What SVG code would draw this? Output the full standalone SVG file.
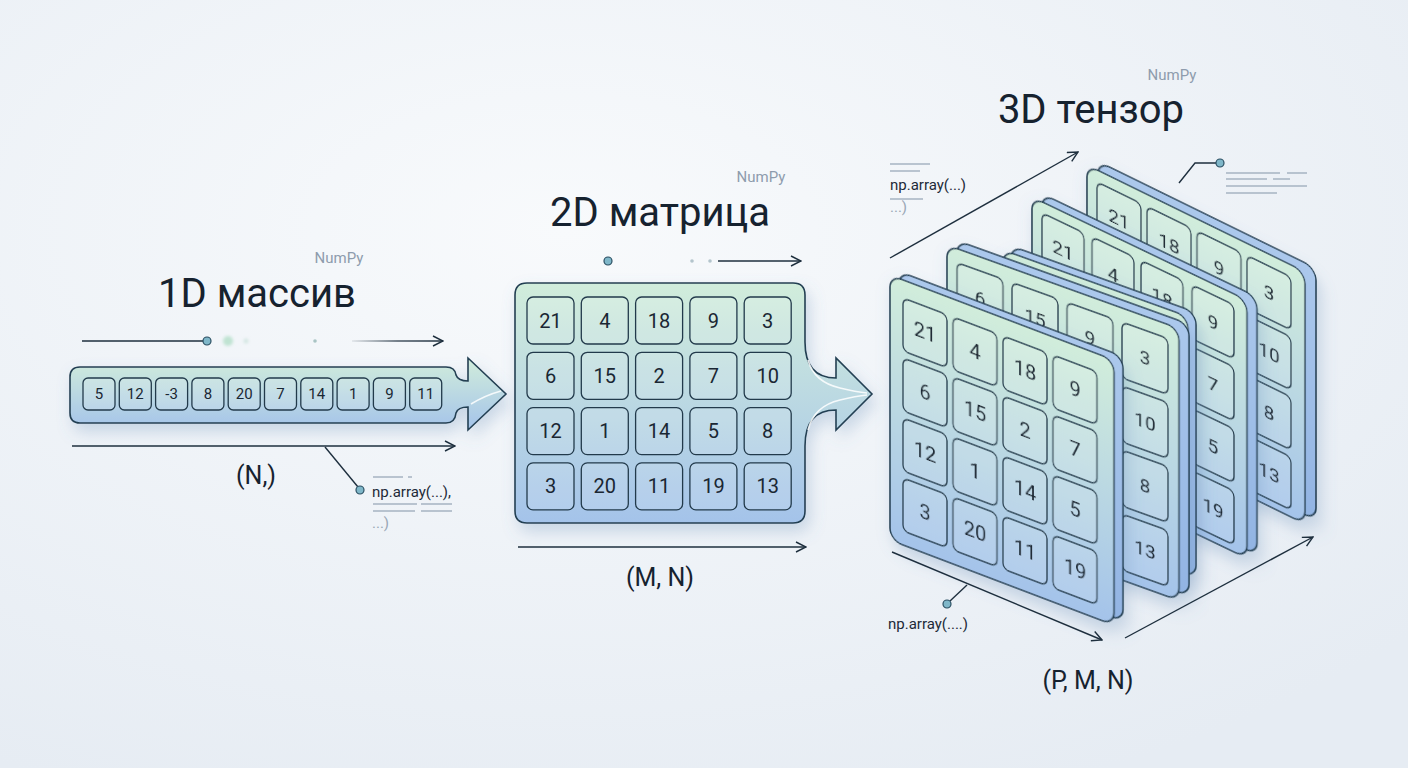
<svg xmlns="http://www.w3.org/2000/svg" width="1408" height="768" viewBox="0 0 1408 768">
<defs>
<style>
text{font-family:Roboto,"Noto Sans","Liberation Sans",sans-serif}
.title{font-size:40px;fill:#16222f;text-anchor:middle}
.numpy{font-size:15px;fill:#8e9cad;text-anchor:middle}
.shape{font-size:25px;fill:#16222f;text-anchor:middle}
.note{font-size:15px;fill:#1d2a38}
.gray{font-size:15px;fill:#9aa7b6}
.box{fill:url(#gBox);stroke:#243f52;stroke-width:1.6}
.cell{fill:#ffffff;fill-opacity:.14;stroke:#223a4b;stroke-width:1.3}
.n{fill:#1a2733;text-anchor:middle;dominant-baseline:central}
.n1{font-size:15px}
.n2{font-size:20px}
.n3{font-size:19px}
.conn{fill:none;stroke:#1e2f3e;stroke-width:1.4}
.faint{fill:none;stroke:#a6b3c2;stroke-width:1.5}
.dot{fill:#7fb7c9;stroke:#2b4f62;stroke-width:1.2}
.side{fill:url(#gSide);stroke:#243f52;stroke-width:1.5}
.face{fill:url(#gBox);stroke:#243f52;stroke-width:1.5}
.hl{fill:none;stroke:#ffffff;stroke-opacity:.85;stroke-width:1.6}
</style>
<radialGradient id="bg" cx="0.4" cy="0.3" r="0.8">
<stop offset="0" stop-color="#f8fafc"/><stop offset="1" stop-color="#e6ecf3"/>
</radialGradient>
<linearGradient id="gBox" x1="0" y1="0" x2="0" y2="1">
<stop offset="0" stop-color="#d1eddb"/><stop offset="1" stop-color="#a4c3ea"/>
</linearGradient>
<linearGradient id="gSide" x1="0" y1="0" x2="0" y2="1">
<stop offset="0" stop-color="#abc8ec"/><stop offset="1" stop-color="#92b4e3"/>
</linearGradient>
<linearGradient id="fade" gradientUnits="userSpaceOnUse" x1="352" y1="0" x2="443" y2="0">
<stop offset="0" stop-color="#1e2f3e" stop-opacity="0.1"/><stop offset="0.5" stop-color="#1e2f3e" stop-opacity="0.8"/><stop offset="1" stop-color="#1e2f3e"/>
</linearGradient>
<filter id="sh" x="-20%" y="-20%" width="150%" height="150%">
<feDropShadow dx="4" dy="8" stdDeviation="8" flood-color="#5f86b3" flood-opacity="0.28"/>
</filter>
<filter id="blur" x="-100%" y="-100%" width="300%" height="300%"><feGaussianBlur stdDeviation="1.5"/></filter>
<marker id="ah" viewBox="0 0 12 12" refX="11" refY="6" markerWidth="12" markerHeight="12" markerUnits="userSpaceOnUse" orient="auto">
<path d="M1,1 L11,6 L1,11" fill="none" stroke="#1e2f3e" stroke-width="1.4"/>
</marker>
</defs>
<rect width="1408" height="768" fill="url(#bg)"/>

<!-- titles -->
<g id="titles">
<text class="numpy" x="339" y="263">NumPy</text>
<text class="title" x="257" y="307">1D массив</text>
<text class="numpy" x="761" y="182">NumPy</text>
<text class="title" x="660" y="226">2D матрица</text>
<text class="numpy" x="1172" y="80">NumPy</text>
<text class="title" x="1091" y="123">3D тензор</text>
<text class="shape" x="256" y="484">(N,)</text>
<text class="shape" x="660" y="586">(M, N)</text>
<text class="shape" x="1088" y="689">(P, M, N)</text>
</g>

<!-- 1D array -->
<g id="node-1d">
<path class="box" filter="url(#sh)" d="M80,367 H446 Q455,367 456,375 Q458,381 468,381 V358 L506,394 L468,430 V407 Q458,407 456,413 Q455,423 446,423 H80 Q70,423 70,413 V377 Q70,367 80,367 Z"/>
<path class="hl" d="M471,404 Q486,395 501,391"/>
<rect class="cell" x="83" y="378" width="32" height="32" rx="5"/><text class="n n1" x="99" y="394">5</text>
<rect class="cell" x="119.3" y="378" width="32" height="32" rx="5"/><text class="n n1" x="135.3" y="394">12</text>
<rect class="cell" x="155.6" y="378" width="32" height="32" rx="5"/><text class="n n1" x="171.6" y="394">-3</text>
<rect class="cell" x="191.9" y="378" width="32" height="32" rx="5"/><text class="n n1" x="207.9" y="394">8</text>
<rect class="cell" x="228.2" y="378" width="32" height="32" rx="5"/><text class="n n1" x="244.2" y="394">20</text>
<rect class="cell" x="264.5" y="378" width="32" height="32" rx="5"/><text class="n n1" x="280.5" y="394">7</text>
<rect class="cell" x="300.8" y="378" width="32" height="32" rx="5"/><text class="n n1" x="316.8" y="394">14</text>
<rect class="cell" x="337.1" y="378" width="32" height="32" rx="5"/><text class="n n1" x="353.1" y="394">1</text>
<rect class="cell" x="373.4" y="378" width="32" height="32" rx="5"/><text class="n n1" x="389.4" y="394">9</text>
<rect class="cell" x="409.7" y="378" width="32" height="32" rx="5"/><text class="n n1" x="425.7" y="394">11</text>
</g>

<!-- 2D matrix -->
<g id="node-2d">
<path class="box" filter="url(#sh)" d="M527,283 H793 Q805,283 805,295 V342 Q805,378 836,378 V358 L872,394 L836,430 V410 Q805,410 805,446 V511 Q805,523 793,523 H527 Q515,523 515,511 V295 Q515,283 527,283 Z"/>
<path class="hl" d="M808,360 Q814,382 840,388 Q856,392 867,393"/>
<path class="hl" d="M808,430 Q814,406 840,400 Q856,396 867,395"/>
<g id="m-cells">
<rect class="cell" x="527" y="297" width="47" height="47" rx="6"/><text class="n n2" x="550.5" y="320.5">21</text>
<rect class="cell" x="581.3" y="297" width="47" height="47" rx="6"/><text class="n n2" x="604.8" y="320.5">4</text>
<rect class="cell" x="635.6" y="297" width="47" height="47" rx="6"/><text class="n n2" x="659.1" y="320.5">18</text>
<rect class="cell" x="689.9" y="297" width="47" height="47" rx="6"/><text class="n n2" x="713.4" y="320.5">9</text>
<rect class="cell" x="744.2" y="297" width="47" height="47" rx="6"/><text class="n n2" x="767.7" y="320.5">3</text>
<rect class="cell" x="527" y="352.3" width="47" height="47" rx="6"/><text class="n n2" x="550.5" y="375.8">6</text>
<rect class="cell" x="581.3" y="352.3" width="47" height="47" rx="6"/><text class="n n2" x="604.8" y="375.8">15</text>
<rect class="cell" x="635.6" y="352.3" width="47" height="47" rx="6"/><text class="n n2" x="659.1" y="375.8">2</text>
<rect class="cell" x="689.9" y="352.3" width="47" height="47" rx="6"/><text class="n n2" x="713.4" y="375.8">7</text>
<rect class="cell" x="744.2" y="352.3" width="47" height="47" rx="6"/><text class="n n2" x="767.7" y="375.8">10</text>
<rect class="cell" x="527" y="407.6" width="47" height="47" rx="6"/><text class="n n2" x="550.5" y="431.1">12</text>
<rect class="cell" x="581.3" y="407.6" width="47" height="47" rx="6"/><text class="n n2" x="604.8" y="431.1">1</text>
<rect class="cell" x="635.6" y="407.6" width="47" height="47" rx="6"/><text class="n n2" x="659.1" y="431.1">14</text>
<rect class="cell" x="689.9" y="407.6" width="47" height="47" rx="6"/><text class="n n2" x="713.4" y="431.1">5</text>
<rect class="cell" x="744.2" y="407.6" width="47" height="47" rx="6"/><text class="n n2" x="767.7" y="431.1">8</text>
<rect class="cell" x="527" y="462.9" width="47" height="47" rx="6"/><text class="n n2" x="550.5" y="486.4">3</text>
<rect class="cell" x="581.3" y="462.9" width="47" height="47" rx="6"/><text class="n n2" x="604.8" y="486.4">20</text>
<rect class="cell" x="635.6" y="462.9" width="47" height="47" rx="6"/><text class="n n2" x="659.1" y="486.4">11</text>
<rect class="cell" x="689.9" y="462.9" width="47" height="47" rx="6"/><text class="n n2" x="713.4" y="486.4">19</text>
<rect class="cell" x="744.2" y="462.9" width="47" height="47" rx="6"/><text class="n n2" x="767.7" y="486.4">13</text>
</g>
</g>

<!-- 3D tensor layers, back to front -->
<g id="node-3d">
<g id="layer-5" transform="matrix(1,0.49,0,1,1087,165)" filter="url(#sh)">
<rect class="side" x="11" y="-9" width="218" height="252" rx="12"/>
<rect class="face" x="0" y="0" width="218" height="252" rx="12"/>
<rect class="cell" x="10" y="12" width="44" height="53" rx="6"/><text class="n n3" x="32" y="38.5">21</text>
<rect class="cell" x="60" y="12" width="44" height="53" rx="6"/><text class="n n3" x="82" y="38.5">18</text>
<rect class="cell" x="110" y="12" width="44" height="53" rx="6"/><text class="n n3" x="132" y="38.5">9</text>
<rect class="cell" x="160" y="12" width="44" height="53" rx="6"/><text class="n n3" x="182" y="38.5">3</text>
<rect class="cell" x="160" y="72" width="44" height="53" rx="6"/><text class="n n3" x="182" y="98.5">10</text>
<rect class="cell" x="160" y="132" width="44" height="53" rx="6"/><text class="n n3" x="182" y="158.5">8</text>
<rect class="cell" x="160" y="192" width="44" height="53" rx="6"/><text class="n n3" x="182" y="218.5">13</text>
</g>
<g id="layer-4" transform="matrix(1,0.48,0,1,1032,197)" filter="url(#sh)">
<rect class="side" x="10" y="-8" width="215" height="258" rx="12"/>
<rect class="face" x="0" y="0" width="215" height="258" rx="12"/>
<rect class="cell" x="10" y="11" width="42" height="54" rx="6"/><text class="n n3" x="31" y="38">21</text>
<rect class="cell" x="60" y="11" width="42" height="54" rx="6"/><text class="n n3" x="81" y="38">4</text>
<rect class="cell" x="109" y="11" width="42" height="54" rx="6"/><text class="n n3" x="130" y="38">18</text>
<rect class="cell" x="160" y="11" width="42" height="54" rx="6"/><text class="n n3" x="181" y="38">9</text>
<rect class="cell" x="160" y="73" width="42" height="54" rx="6"/><text class="n n3" x="181" y="100">7</text>
<rect class="cell" x="160" y="135" width="42" height="54" rx="6"/><text class="n n3" x="181" y="162">5</text>
<rect class="cell" x="160" y="197" width="42" height="54" rx="6"/><text class="n n3" x="181" y="224">19</text>
</g>
<g id="layer-3" transform="matrix(1,0.36,0,1,1003,250)" filter="url(#sh)">
<rect class="side" x="8" y="-7" width="185" height="265" rx="12"/>
<rect class="face" x="0" y="0" width="185" height="265" rx="12"/>
</g>
<g id="layer-2" transform="matrix(1,0.36,0,1,947,245)" filter="url(#sh)">
<rect class="side" x="10" y="-8" width="232" height="272" rx="12"/>
<rect class="face" x="0" y="0" width="232" height="272" rx="12"/>
<rect class="cell" x="10" y="14" width="46" height="56" rx="6"/><text class="n n3" x="33" y="42">6</text>
<rect class="cell" x="65" y="14" width="46" height="56" rx="6"/><text class="n n3" x="88" y="42">15</text>
<rect class="cell" x="120" y="14" width="46" height="56" rx="6"/><text class="n n3" x="143" y="42">9</text>
<rect class="cell" x="175" y="14" width="46" height="56" rx="6"/><text class="n n3" x="198" y="42">3</text>
<rect class="cell" x="175" y="78" width="46" height="56" rx="6"/><text class="n n3" x="198" y="106">10</text>
<rect class="cell" x="175" y="142" width="46" height="56" rx="6"/><text class="n n3" x="198" y="170">8</text>
<rect class="cell" x="175" y="206" width="46" height="56" rx="6"/><text class="n n3" x="198" y="234">13</text>
</g>
<g id="layer-1" transform="matrix(1,0.38,0,1,890,275)" filter="url(#sh)">
<rect class="side" x="9" y="-7" width="224" height="265" rx="12"/>
<rect class="face" x="0" y="0" width="224" height="265" rx="12"/>
<rect class="cell" x="13" y="18" width="44" height="53" rx="6"/><text class="n n2" x="35" y="44.5">21</text>
<rect class="cell" x="63" y="18" width="44" height="53" rx="6"/><text class="n n2" x="85" y="44.5">4</text>
<rect class="cell" x="113" y="18" width="44" height="53" rx="6"/><text class="n n2" x="135" y="44.5">18</text>
<rect class="cell" x="163" y="18" width="44" height="53" rx="6"/><text class="n n2" x="185" y="44.5">9</text>
<rect class="cell" x="13" y="78" width="44" height="53" rx="6"/><text class="n n2" x="35" y="104.5">6</text>
<rect class="cell" x="63" y="78" width="44" height="53" rx="6"/><text class="n n2" x="85" y="104.5">15</text>
<rect class="cell" x="113" y="78" width="44" height="53" rx="6"/><text class="n n2" x="135" y="104.5">2</text>
<rect class="cell" x="163" y="78" width="44" height="53" rx="6"/><text class="n n2" x="185" y="104.5">7</text>
<rect class="cell" x="13" y="138" width="44" height="53" rx="6"/><text class="n n2" x="35" y="164.5">12</text>
<rect class="cell" x="63" y="138" width="44" height="53" rx="6"/><text class="n n2" x="85" y="164.5">1</text>
<rect class="cell" x="113" y="138" width="44" height="53" rx="6"/><text class="n n2" x="135" y="164.5">14</text>
<rect class="cell" x="163" y="138" width="44" height="53" rx="6"/><text class="n n2" x="185" y="164.5">5</text>
<rect class="cell" x="13" y="198" width="44" height="53" rx="6"/><text class="n n2" x="35" y="224.5">3</text>
<rect class="cell" x="63" y="198" width="44" height="53" rx="6"/><text class="n n2" x="85" y="224.5">20</text>
<rect class="cell" x="113" y="198" width="44" height="53" rx="6"/><text class="n n2" x="135" y="224.5">11</text>
<rect class="cell" x="163" y="198" width="44" height="53" rx="6"/><text class="n n2" x="185" y="224.5">19</text>
</g>
</g>

<!-- connectors and annotations -->
<g id="connectors">
<line class="conn" x1="82" y1="341" x2="207" y2="341"/>
<circle cx="228" cy="341" r="5" fill="#bfe3d2" filter="url(#blur)"/>
<circle cx="246" cy="341" r="2.5" fill="#d3e6e2" filter="url(#blur)"/>
<circle cx="315" cy="341" r="1.8" fill="#a9c4c4"/>
<line x1="352" y1="341" x2="443" y2="341" stroke="url(#fade)" stroke-width="1.4" marker-end="url(#ah)"/>
<circle class="dot" cx="207" cy="341" r="4"/>
<line class="conn" x1="72" y1="446" x2="455" y2="446" marker-end="url(#ah)"/>
<line class="conn" x1="325" y1="447" x2="358" y2="487"/>
<circle class="dot" cx="360" cy="490" r="4"/>

<circle class="dot" cx="608" cy="261" r="4"/>
<circle cx="692" cy="261" r="1.8" fill="#b3c4cc"/>
<circle cx="710" cy="261" r="1.8" fill="#b3c4cc"/>
<line class="conn" x1="718" y1="261" x2="801" y2="261" marker-end="url(#ah)"/>
<line class="conn" x1="518" y1="547" x2="806" y2="547" marker-end="url(#ah)"/>

<line class="conn" x1="890" y1="258" x2="1078" y2="152" marker-end="url(#ah)"/>
<line class="conn" x1="892" y1="552" x2="1102" y2="640" marker-end="url(#ah)"/>
<line class="conn" x1="1125" y1="638" x2="1313" y2="537" marker-end="url(#ah)"/>
<line class="conn" x1="967" y1="585" x2="950" y2="601"/>
<circle class="dot" cx="947" cy="604" r="4"/>
<polyline class="conn" points="1179,183 1195,163 1216,163"/>
<circle class="dot" cx="1220" cy="163" r="4"/>
</g>

<g id="notes">
<line class="faint" x1="373" y1="477" x2="403" y2="477"/>
<line class="faint" x1="408" y1="477" x2="412" y2="477"/>
<text class="note" x="372" y="497">np.array(...),</text>
<line class="faint" x1="373" y1="504" x2="417" y2="504"/>
<line class="faint" x1="421" y1="504" x2="452" y2="504"/>
<line class="faint" x1="373" y1="511" x2="415" y2="511"/>
<line class="faint" x1="421" y1="511" x2="452" y2="511"/>
<text class="gray" x="372" y="528">...)</text>

<line class="faint" x1="890" y1="164" x2="930" y2="164"/>
<line class="faint" x1="890" y1="171" x2="920" y2="171"/>
<text class="note" x="890" y="190">np.array(...)</text>
<line class="faint" x1="890" y1="199" x2="923" y2="199"/>
<text class="gray" x="890" y="212">...)</text>

<line class="faint" x1="1226" y1="173" x2="1280" y2="173"/>
<line class="faint" x1="1287" y1="173" x2="1307" y2="173"/>
<line class="faint" x1="1226" y1="179" x2="1267" y2="179"/>
<line class="faint" x1="1273" y1="179" x2="1290" y2="179"/>
<line class="faint" x1="1226" y1="186" x2="1307" y2="186"/>
<line class="faint" x1="1226" y1="193" x2="1277" y2="193"/>

<text class="note" x="888" y="629">np.array(....)</text>
</g>
</svg>
